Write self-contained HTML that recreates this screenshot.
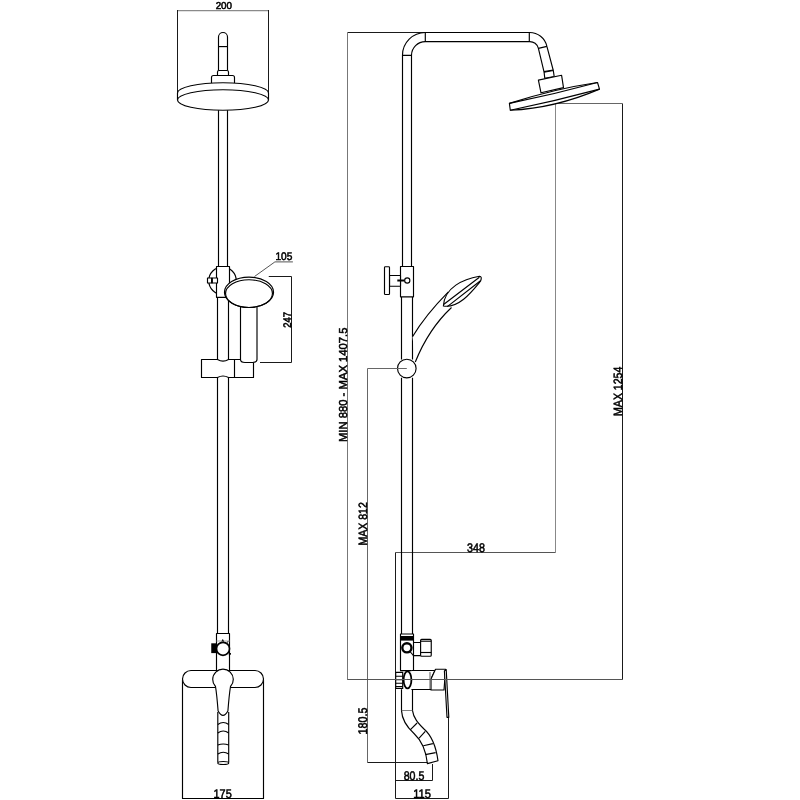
<!DOCTYPE html>
<html><head><meta charset="utf-8">
<style>
html,body{margin:0;padding:0;background:#fff;width:800px;height:800px;overflow:hidden}
svg{display:block;filter:grayscale(1)}
.o{stroke:#000;stroke-width:1.15;fill:none;stroke-linejoin:round}
.w{fill:#fff}
.d{stroke:#555;stroke-width:1;fill:none}
.k{stroke:#1a1a1a;stroke-width:1;fill:none}
.g{stroke:#8a8a8a;stroke-width:1.4;fill:none}
text{font-family:"Liberation Sans",sans-serif;font-size:10.5px;fill:#000;stroke:#000;stroke-width:0.55;-webkit-font-smoothing:antialiased;text-rendering:geometricPrecision}
</style></head>
<body>
<svg width="800" height="800" viewBox="0 0 800 800">
<rect width="800" height="800" fill="#fff"/>

<!-- ================= LEFT VIEW ================= -->
<!-- dim 200 -->
<line x1="177.5" y1="10.6" x2="268.5" y2="10.6" class="g"/>
<path d="M177.5,10 V93 M268.5,10 V93" class="k"/>

<!-- stem -->
<path d="M218.5,70.5 V37 A4.5,4.5 0 0 1 227.5,37 V70.5" class="o"/>
<line x1="218.5" y1="46.6" x2="227.5" y2="46.6" class="o"/>
<path d="M217.5,75.5 V72 Q217.5,70.5 219,70.5 H227 Q228.5,70.5 228.5,72 V75.5 Z" class="o w"/>
<path d="M211.5,83 V77.5 Q211.5,75.5 213.5,75.5 H232.5 Q234.5,75.5 234.5,77.5 V83" class="o w"/>
<!-- disc -->
<path d="M177.5,100 V93 A45.5,10.3 0 0 1 268.5,93 V100" class="o w"/>
<ellipse cx="223" cy="100" rx="45.5" ry="10.3" class="o w"/>

<!-- pipe -->
<path d="M218.5,110.3 V266.5 M227.5,110.3 V266.5 M217.5,297 V359.5 M228.5,297 V359.5 M217.5,377.5 V633.5 M228.5,377.5 V633.5" class="o"/>

<!-- upper slider -->
<circle cx="222.5" cy="280.75" r="13.75" class="o"/>
<rect x="216.5" y="266.5" width="13" height="30.8" class="o w"/>
<rect x="207.5" y="278" width="4.5" height="5" class="o w"/>
<rect x="212" y="278" width="5.5" height="5" class="o w"/>
<line x1="211.9" y1="278" x2="211.9" y2="283" stroke="#000" stroke-width="1.8"/>

<!-- lower slider -->
<path d="M201.5,359.5 H217.5 Q223,362.8 228.5,359.5 H253.5 V377.5 H228.5 Q223,374.5 217.5,377.5 H201.5 Z" class="o w"/>
<line x1="234.5" y1="359.5" x2="234.5" y2="377.5" class="o"/>

<!-- hand shower -->
<path d="M240.5,300 V359.5 Q240.5,362.5 245,362.5 H252.5 Q257,362.5 257,359.5 V300" class="o w"/>
<ellipse cx="249" cy="292.3" rx="24.55" ry="15.2" class="o w"/>
<ellipse cx="249" cy="293.6" rx="23.45" ry="13.9" class="o"/>

<!-- dim 105 / 247 -->
<polyline points="254.5,276.5 274.9,261.9 292.9,261.9" class="d"/>
<polyline points="268.75,276.5 291.5,276.5 291.5,362.5 260,362.5" class="k"/>

<!-- diverter -->
<path d="M216.5,671 V633.5 H229.5 V671" class="o"/>
<line x1="216.5" y1="641" x2="229.5" y2="641" stroke="#aaa" stroke-width="1"/>
<rect x="211.25" y="643.3" width="5.15" height="9.8" fill="#000"/>
<circle cx="223" cy="648.8" r="6.5" stroke="#000" stroke-width="1.7" fill="#fff"/>
<path d="M222,641.6 L222.7,639.6 L223.6,641.6 M229.2,652.5 L231,654 L228.8,654.6 M226.8,642.6 L228.4,641.4" stroke="#000" stroke-width="1" fill="none"/>

<!-- mixer body -->
<path d="M182.5,680 V798.5 H263.5 V680" class="o"/>
<rect x="182.5" y="670.5" width="81" height="17" rx="8.5" class="o w"/>
<!-- spout -->
<path d="M217.8,712 V762.5 M228.7,712 V762.5" class="o"/>
<ellipse cx="223.25" cy="763" rx="5.45" ry="1.5" class="o"/>
<path d="M217.8,724.5 Q223.25,720.5 228.7,724.5 M217.8,733 Q223.25,729 228.7,733 M217.8,745 Q223.25,743 228.7,745 M217.8,754 Q223.25,750.5 228.7,754" class="o"/>
<!-- lever -->
<path d="M215.5,686.5 A10.3,10.3 0 1 1 230.5,686.5 C229.6,692 228.6,702 227.9,711 Q223,719.8 218.1,711 C217.4,702 216.4,692 215.5,686.5 Z" class="o w"/>

<!-- ================= RIGHT VIEW ================= -->
<!-- dimension lines -->
<path d="M425.3,32.5 H347.5" class="k"/>
<path d="M347.5,32.5 V679.5" stroke="#777" stroke-width="1" fill="none"/>
<path d="M347.5,679.5 H622.5" class="d"/>
<path d="M622.5,679.5 V103.5" class="k"/>
<path d="M622.5,103.5 H555.5" stroke="#666" stroke-width="1" fill="none"/>
<path d="M555.5,103.5 V552.5" stroke="#888" stroke-width="1" fill="none"/>
<path d="M555.5,552.5 H395.5" class="d"/>
<path d="M395.5,552.5 V798.5 H448.5 V716" class="k"/>
<polyline points="406.8,368.5 367.5,368.5 367.5,762.5" stroke="#666" stroke-width="1" fill="none"/>
<polyline points="367.5,762.5 429,762.5" class="k"/>
<polyline points="395.5,780.5 432.5,780.5 432.5,764" class="k"/>

<!-- pipe -->
<path d="M402.5,266.5 V55.3 A22.8,22.8 0 0 1 425.3,32.5 H529.3 A17.6,17.6 0 0 1 546.9,46.4 L553.3,70.5" class="o"/>
<path d="M411.5,266.5 V55.3 A13.8,13.8 0 0 1 425.3,41.6 H529.3 A8.8,8.8 0 0 1 538.4,48.4 L544.1,72.2" class="o"/>
<path d="M402.5,55.3 H411.5 M425.3,32.5 V41.6 M529.3,32.5 V41.6 M538.4,48.4 L546.9,46.4" class="o"/>
<line x1="544.1" y1="72.2" x2="553.3" y2="70.5" stroke="#000" stroke-width="2.2"/>
<polygon points="544.1,72.2 553.3,70.5 554.2,76.6 544.8,78.4" class="o w"/>
<polygon points="538.4,80.1 561.6,75.3 563.5,87.6 541,92.8" class="o w"/>
<!-- disc -->
<path d="M509.4,103.4 Q553.6,88.95 597.5,82.5 L599.5,89.1 Q555.1,108.1 510.3,110.3 Z" class="o w"/>
<path d="M509.4,103.4 Q553.6,94.45 597.5,82.5 M510.3,110.3 Q555.1,101 599.5,89.1" class="o"/>

<path d="M401.5,297 V359.5 M412.5,297 V359.5 M401.5,377.7 V634 M412.5,377.7 V634" class="o"/>

<!-- slider -->
<rect x="400.5" y="266.5" width="13" height="30.3" class="o w"/>
<rect x="389.5" y="275.5" width="11" height="10.75" class="o w"/>
<rect x="384.5" y="266.75" width="5" height="27.75" rx="0.8" class="o w"/>
<line x1="397.3" y1="280.5" x2="404.5" y2="280.5" stroke="#000" stroke-width="2"/>
<circle cx="407.25" cy="280.5" r="2.6" class="o w"/>

<!-- hand shower -->
<path d="M412.5,336.8 C422.3,320.3 434.9,305.5 448.4,291.9 L451.5,307.5 C435.4,322.6 423.5,341.6 415.3,362 Z" fill="#fff"/>
<path d="M412.5,336.8 C422.3,320.3 434.9,305.5 448.4,291.9 M415.3,362 C423.5,341.6 435.4,322.6 451.5,307.5" class="o"/>
<path d="M443.4,306 C444.3,287.3 463.7,278.9 479.4,276.2 Q482.5,276.5 480.5,281.25 C471.4,292.3 459,308.3 443.4,306 Z" class="o w"/>
<path d="M443.9,304.3 L479.4,277.3 M447.3,306.6 L480.5,280.7" class="o"/>

<!-- ball -->
<circle cx="406.8" cy="368.5" r="9.3" class="o w"/>
<line x1="397" y1="368.5" x2="406.8" y2="368.5" stroke="#666" stroke-width="1"/>

<!-- diverter -->
<rect x="400.5" y="634" width="13" height="36.6" class="o w"/>
<rect x="400.5" y="636" width="13" height="4.6" fill="#000"/>
<circle cx="406.9" cy="647.8" r="4.6" stroke="#000" stroke-width="2.4" fill="#fff"/>
<path d="M413.5,642.5 H420.6 M413.5,655.6 H420.6" class="o"/>
<path d="M410,651.5 L413.5,655.6" class="o"/>
<rect x="420.6" y="639.4" width="10.65" height="16.85" rx="1" class="o w"/>
<line x1="420.6" y1="641.2" x2="431.25" y2="641.2" class="o"/>
<line x1="420.6" y1="652.5" x2="431.25" y2="652.5" class="o"/>

<!-- mixer -->
<path d="M401.5,689.3 V710.6 H412.5 V689.3" class="o"/>
<path d="M401.5,710.6 C402,720 408,728 414,733.5 C421,740 426,750 427.4,763.6 L438,760.8 C436,746 431,735 424,729 C418,723 413.5,718 412.5,710.6" class="o w"/>
<path d="M410.2,729.9 L417.1,723 M419.1,738.1 L425.3,731.3 M423.3,745.7 L432.9,743.6 M425.3,754.6 L435.65,752.6" class="o"/>

<path d="M411.4,670.5 H435 L431,679 V689.5 H411.4" class="o w"/>
<path d="M435.5,669.2 H445.6 L444,690 H431 V679 Z" class="o w"/>
<line x1="430" y1="672" x2="430" y2="689" class="g"/>
<polygon points="444.4,671 446.2,669.5 448.8,717.3 447,717.3" class="o w"/>
<rect x="395.7" y="672.3" width="7" height="16.1" class="o w"/>
<path d="M395.7,676.2 H402.7 M395.7,679.7 H402.7 M395.7,683.2 H402.7 M395.7,686.5 H402.7" class="o"/>
<ellipse cx="407.5" cy="679.9" rx="3.9" ry="8.5" stroke="#000" stroke-width="1.8" fill="#fff"/>
<line x1="347.5" y1="679.5" x2="622.5" y2="679.5" class="d"/>
<!-- labels -->
<text transform="translate(223.85,8.8) scale(0.98,1)" text-anchor="middle" style="font-size:10px">200</text>
<text transform="translate(283.85,260.4) scale(0.92,1)" text-anchor="middle" style="font-size:11px">105</text>
<text transform="translate(290.8,319.9) rotate(-90) scale(0.86,1)" text-anchor="middle" style="font-size:11px">247</text>
<text transform="translate(222.6,797.8) scale(0.87,1)" text-anchor="middle" style="font-size:12.5px">175</text>
<text transform="translate(347.1,384.8) rotate(-90) scale(0.98,1)" text-anchor="middle" style="font-size:11.5px">MIN 880 - MAX 1407.5</text>
<text transform="translate(366.7,523.9) rotate(-90) scale(0.88,1)" text-anchor="middle" style="font-size:12px">MAX 812</text>
<text transform="translate(621.9,391.3) rotate(-90) scale(0.88,1)" text-anchor="middle" style="font-size:12px">MAX 1254</text>
<text transform="translate(475.9,552.1) scale(0.86,1)" text-anchor="middle" style="font-size:12.5px">348</text>
<text transform="translate(366.5,721) rotate(-90) scale(0.86,1)" text-anchor="middle" style="font-size:12.5px">180.5</text>
<text transform="translate(414,779.75) scale(0.85,1)" text-anchor="middle" style="font-size:12.5px">80.5</text>
<text transform="translate(422.1,797.5) scale(0.89,1)" text-anchor="middle" style="font-size:12.5px">115</text>
</svg>
</body></html>
